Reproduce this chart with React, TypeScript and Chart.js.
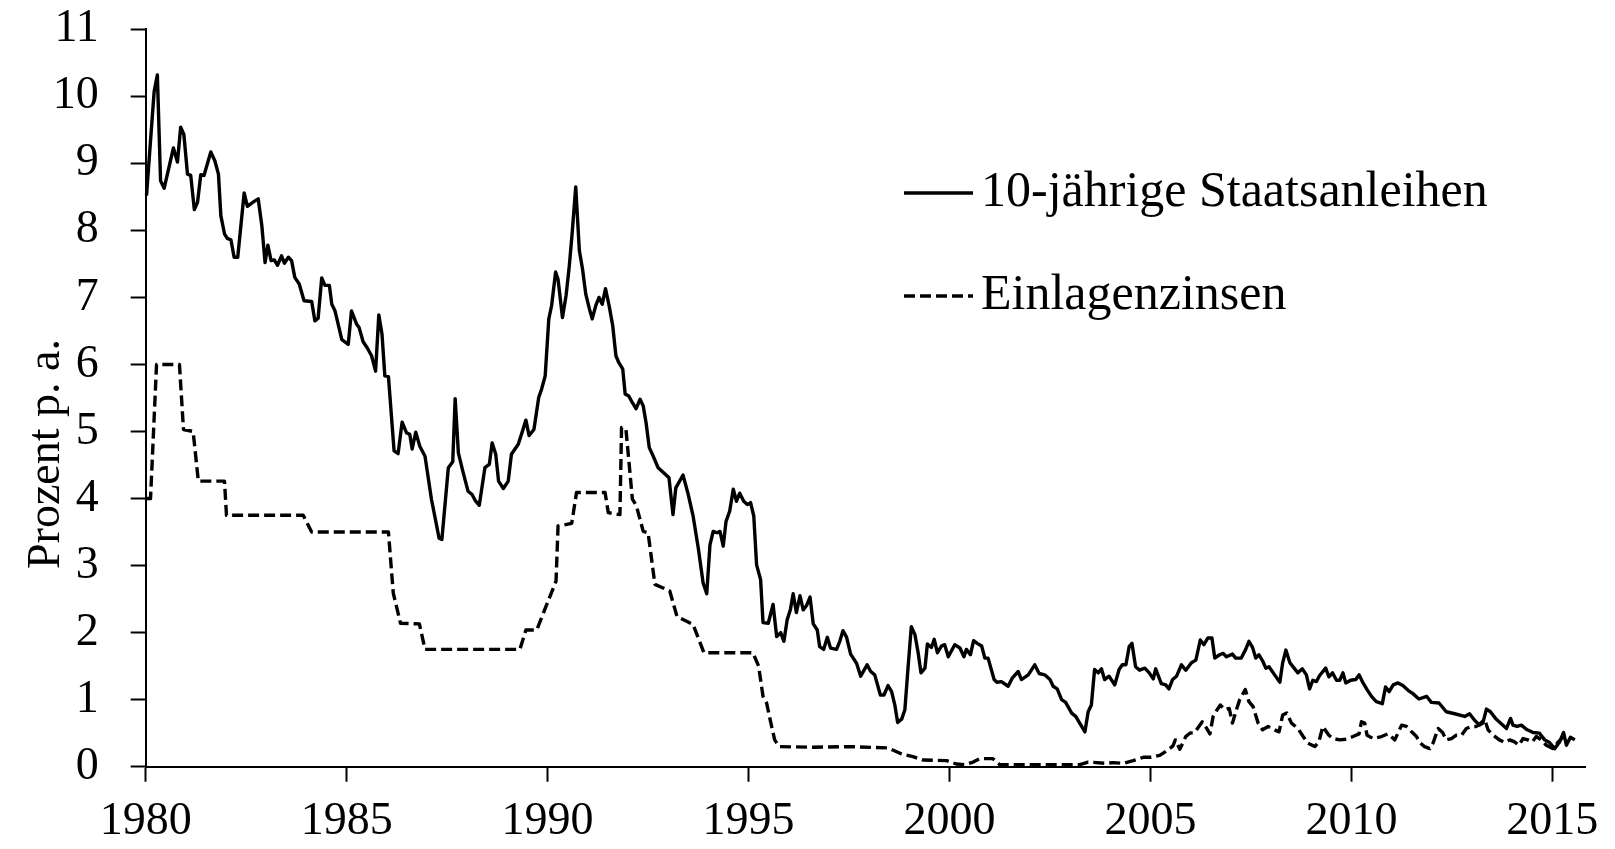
import React, { useEffect, useRef } from "react";
import { Chart, registerables } from "chart.js";

Chart.register(...registerables);

const FONT = '"Liberation Serif", "Times New Roman", serif';

const seriesLabels = ["10-jährige Staatsanleihen", "Einlagenzinsen"];
const yAxisTitle = "Prozent p. a.";
const xTickYears = [1980, 1985, 1990, 1995, 2000, 2005, 2010, 2015];

const bondYears = [
  1980.02, 1980.21, 1980.29, 1980.37, 1980.46, 1980.59, 1980.69, 1980.79, 1980.87, 1980.95,
  1981.04, 1981.12, 1981.21, 1981.29, 1981.37, 1981.45, 1981.62, 1981.72, 1981.81, 1981.87,
  1981.96, 1982.03, 1982.12, 1982.2, 1982.29, 1982.45, 1982.53, 1982.69, 1982.8, 1982.89,
  1982.97, 1983.04, 1983.12, 1983.2, 1983.28, 1983.38, 1983.45, 1983.55, 1983.63, 1983.71,
  1983.82, 1983.94, 1984.13, 1984.21, 1984.29, 1984.38, 1984.46, 1984.57, 1984.63, 1984.71,
  1984.88, 1985.04, 1985.12, 1985.25, 1985.31, 1985.41, 1985.51, 1985.62, 1985.72, 1985.8,
  1985.88, 1985.95, 1986.04, 1986.18, 1986.28, 1986.38, 1986.49, 1986.57, 1986.63, 1986.72,
  1986.82, 1986.95, 1987.11, 1987.3, 1987.37, 1987.53, 1987.64, 1987.7, 1987.78, 1987.89,
  1988.02, 1988.12, 1988.21, 1988.3, 1988.44, 1988.55, 1988.62, 1988.71, 1988.78, 1988.9,
  1989.02, 1989.1, 1989.27, 1989.35, 1989.46, 1989.54, 1989.66, 1989.78, 1989.85, 1989.94,
  1990.03, 1990.1, 1990.2, 1990.26, 1990.37, 1990.46, 1990.54, 1990.61, 1990.7, 1990.79,
  1990.87, 1990.95, 1991.04, 1991.11, 1991.2, 1991.28, 1991.36, 1991.44, 1991.53, 1991.62,
  1991.7, 1991.77, 1991.87, 1991.93, 1992.02, 1992.11, 1992.2, 1992.3, 1992.38, 1992.45,
  1992.53, 1992.63, 1992.75, 1992.88, 1993.02, 1993.12, 1993.19, 1993.37, 1993.5, 1993.62,
  1993.75, 1993.87, 1993.96, 1994.04, 1994.12, 1994.22, 1994.29, 1994.37, 1994.44, 1994.53,
  1994.62, 1994.7, 1994.78, 1994.88, 1994.97, 1995.05, 1995.13, 1995.2, 1995.3, 1995.36,
  1995.49, 1995.61, 1995.7, 1995.8, 1995.88, 1995.96, 1996.04, 1996.11, 1996.19, 1996.28,
  1996.36, 1996.44, 1996.53, 1996.61, 1996.71, 1996.77, 1996.87, 1996.96, 1997.04, 1997.19,
  1997.27, 1997.35, 1997.44, 1997.54, 1997.69, 1997.79, 1997.95, 1998.04, 1998.14, 1998.28,
  1998.37, 1998.47, 1998.56, 1998.64, 1998.71, 1998.81, 1998.89, 1998.97, 1999.05, 1999.14,
  1999.22, 1999.29, 1999.39, 1999.45, 1999.55, 1999.62, 1999.7, 1999.8, 1999.88, 1999.97,
  2000.13, 2000.26, 2000.36, 2000.42, 2000.52, 2000.6, 2000.69, 2000.8, 2000.88, 2000.96,
  2001.11, 2001.18, 2001.29, 2001.46, 2001.56, 2001.71, 2001.79, 2001.96, 2002.12, 2002.23,
  2002.37, 2002.5, 2002.58, 2002.68, 2002.79, 2002.89, 2003.04, 2003.14, 2003.37, 2003.45,
  2003.53, 2003.61, 2003.7, 2003.78, 2003.86, 2003.97, 2004.11, 2004.22, 2004.3, 2004.39,
  2004.47, 2004.54, 2004.63, 2004.73, 2004.86, 2004.97, 2005.07, 2005.13, 2005.27, 2005.38,
  2005.46, 2005.55, 2005.65, 2005.77, 2005.88, 2006.02, 2006.13, 2006.24, 2006.33, 2006.43,
  2006.53, 2006.6, 2006.72, 2006.81, 2006.89, 2007.04, 2007.12, 2007.26, 2007.37, 2007.45,
  2007.54, 2007.62, 2007.7, 2007.79, 2007.87, 2007.95, 2008.09, 2008.22, 2008.29, 2008.37,
  2008.47, 2008.55, 2008.67, 2008.78, 2008.88, 2008.96, 2009.04, 2009.13, 2009.21, 2009.36,
  2009.44, 2009.53, 2009.63, 2009.71, 2009.79, 2009.86, 2009.98, 2010.11, 2010.19, 2010.29,
  2010.39, 2010.5, 2010.62, 2010.77, 2010.85, 2010.94, 2011.04, 2011.16, 2011.28, 2011.41,
  2011.53, 2011.68, 2011.87, 2011.99, 2012.18, 2012.36, 2012.57, 2012.82, 2012.94, 2013.07,
  2013.19, 2013.27, 2013.36, 2013.46, 2013.6, 2013.73, 2013.86, 2013.96, 2014.02, 2014.12,
  2014.23, 2014.35, 2014.52, 2014.68, 2014.81, 2014.93, 2015.06, 2015.18, 2015.28, 2015.35,
  2015.45, 2015.56,
];

const bondValues = [
  8.52, 10.07, 10.32, 8.74, 8.63, 8.97, 9.23, 9.02, 9.54, 9.43,
  8.84, 8.82, 8.31, 8.42, 8.83, 8.82, 9.17, 9.04, 8.84, 8.22,
  7.95, 7.88, 7.86, 7.6, 7.6, 8.56, 8.36, 8.43, 8.47, 8.07,
  7.52, 7.78, 7.55, 7.56, 7.48, 7.62, 7.51, 7.6, 7.55, 7.3,
  7.2, 6.95, 6.94, 6.65, 6.69, 7.29, 7.18, 7.18, 6.9, 6.8,
  6.37, 6.3, 6.8, 6.6, 6.55, 6.34, 6.25, 6.13, 5.9, 6.74,
  6.45, 5.83, 5.82, 4.71, 4.67, 5.14, 4.98, 4.96, 4.74, 4.99,
  4.78, 4.63, 3.99, 3.41, 3.39, 4.46, 4.55, 5.49, 4.68, 4.41,
  4.11, 4.06, 3.96, 3.9, 4.46, 4.51, 4.83, 4.66, 4.26, 4.15,
  4.26, 4.66, 4.81, 4.96, 5.17, 4.94, 5.03, 5.51, 5.63, 5.83,
  6.68, 6.88, 7.38, 7.27, 6.7, 7.03, 7.47, 7.95, 8.65, 7.7,
  7.42, 7.05, 6.83, 6.68, 6.88, 7.0, 6.9, 7.13, 6.88, 6.58,
  6.13, 6.03, 5.93, 5.56, 5.53, 5.43, 5.34, 5.48, 5.38, 5.13,
  4.76, 4.63, 4.46, 4.39, 4.31, 3.76, 4.16, 4.35, 4.06, 3.74,
  3.26, 2.74, 2.58, 3.31, 3.51, 3.49, 3.51, 3.29, 3.66, 3.81,
  4.14, 3.96, 4.08, 3.96, 3.91, 3.94, 3.74, 3.01, 2.79, 2.15,
  2.14, 2.42, 1.94, 2.0, 1.87, 2.19, 2.34, 2.58, 2.3, 2.55,
  2.34, 2.4, 2.53, 2.13, 2.04, 1.79, 1.75, 1.93, 1.77, 1.75,
  1.87, 2.03, 1.93, 1.68, 1.54, 1.35, 1.52, 1.42, 1.37, 1.07,
  1.07, 1.21, 1.12, 0.92, 0.66, 0.71, 0.85, 1.49, 2.09, 1.97,
  1.7, 1.4, 1.47, 1.83, 1.78, 1.9, 1.7, 1.8, 1.82, 1.64,
  1.82, 1.77, 1.64, 1.75, 1.67, 1.88, 1.84, 1.8, 1.62, 1.62,
  1.3, 1.26, 1.27, 1.2, 1.32, 1.42, 1.3, 1.37, 1.52, 1.39,
  1.37, 1.3, 1.2, 1.16, 1.0, 0.96, 0.8, 0.75, 0.52, 0.82,
  0.92, 1.45, 1.4, 1.46, 1.3, 1.35, 1.22, 1.45, 1.52, 1.52,
  1.79, 1.84, 1.49, 1.44, 1.47, 1.4, 1.31, 1.46, 1.24, 1.22,
  1.16, 1.3, 1.35, 1.52, 1.44, 1.55, 1.59, 1.89, 1.82, 1.92,
  1.92, 1.62, 1.67, 1.69, 1.64, 1.68, 1.62, 1.62, 1.75, 1.87,
  1.78, 1.62, 1.67, 1.58, 1.47, 1.49, 1.37, 1.26, 1.55, 1.74,
  1.55, 1.49, 1.4, 1.46, 1.37, 1.16, 1.29, 1.27, 1.36, 1.47,
  1.34, 1.4, 1.29, 1.29, 1.4, 1.25, 1.29, 1.3, 1.37, 1.25,
  1.15, 1.05, 0.97, 0.94, 1.19, 1.12, 1.22, 1.25, 1.21, 1.14,
  1.09, 1.01, 1.05, 0.96, 0.95, 0.82, 0.79, 0.75, 0.79, 0.69,
  0.62, 0.65, 0.86, 0.82, 0.71, 0.64, 0.57, 0.72, 0.62, 0.6,
  0.62, 0.56, 0.51, 0.5, 0.4, 0.36, 0.27, 0.37, 0.51, 0.32,
  0.44, 0.4,
];

const depositYears = [
  1980.02, 1980.12, 1980.27, 1980.84, 1980.94, 1981.18, 1981.31, 1981.96, 1982.01, 1983.92,
  1984.13, 1986.04, 1986.16, 1986.34, 1986.81, 1986.95, 1989.31, 1989.46, 1989.73, 1989.96,
  1990.21, 1990.26, 1990.6, 1990.72, 1991.43, 1991.51, 1991.8, 1991.84, 1991.95, 1992.11,
  1992.21, 1992.38, 1992.5, 1992.67, 1992.86, 1993.04, 1993.22, 1993.46, 1993.62, 1993.89,
  1995.11, 1995.25, 1995.36, 1995.45, 1995.53, 1995.65, 1995.76, 1996.6, 1997.5, 1998.47,
  1998.81, 1999.09, 1999.34, 1999.93, 2000.17, 2000.38, 2000.59, 2000.75, 2001.08, 2001.25,
  2002.5, 2003.24, 2003.45, 2003.9, 2004.07, 2004.33, 2004.57, 2004.82, 2005.02, 2005.23,
  2005.41, 2005.56, 2005.62, 2005.73, 2005.88, 2005.98, 2006.1, 2006.29, 2006.38, 2006.48,
  2006.56, 2006.66, 2006.74, 2006.85, 2006.96, 2007.04, 2007.14, 2007.22, 2007.36, 2007.45,
  2007.55, 2007.68, 2007.79, 2007.93, 2008.09, 2008.2, 2008.29, 2008.39, 2008.51, 2008.67,
  2008.8, 2008.92, 2009.09, 2009.19, 2009.29, 2009.44, 2009.54, 2009.71, 2009.88, 2010.04,
  2010.19, 2010.25, 2010.33, 2010.39, 2010.54, 2010.75, 2010.91, 2011.08, 2011.25, 2011.37,
  2011.5, 2011.62, 2011.7, 2011.82, 2011.95, 2012.03, 2012.16, 2012.27, 2012.36, 2012.49,
  2012.61, 2012.74, 2012.86, 2012.98, 2013.11, 2013.32, 2013.4, 2013.53, 2013.68, 2013.82,
  2013.94, 2014.06, 2014.17, 2014.27, 2014.39, 2014.5, 2014.6, 2014.73, 2014.85, 2015.01,
  2015.12, 2015.23, 2015.35,
];

const depositValues = [
  4.0, 4.0, 6.0, 6.0, 5.03, 5.0, 4.26, 4.26, 3.75, 3.75,
  3.5, 3.5, 2.59, 2.14, 2.13, 1.75, 1.75, 2.04, 2.04, 2.39,
  2.77, 3.59, 3.63, 4.09, 4.09, 3.79, 3.76, 5.06, 5.03, 3.99,
  3.89, 3.51, 3.49, 2.72, 2.67, 2.62, 2.24, 2.17, 2.12, 1.7,
  1.7, 1.5, 1.05, 0.95, 0.72, 0.4, 0.3, 0.29, 0.3, 0.28,
  0.19, 0.15, 0.1, 0.09, 0.04, 0.03, 0.07, 0.12, 0.12, 0.03,
  0.03, 0.03, 0.07, 0.05, 0.06, 0.05, 0.09, 0.14, 0.14, 0.17,
  0.24, 0.31, 0.4, 0.26, 0.45, 0.5, 0.51, 0.67, 0.59, 0.49,
  0.75, 0.85, 0.92, 0.85, 0.87, 0.65, 0.85, 1.0, 1.15, 0.97,
  0.9, 0.65, 0.55, 0.6, 0.55, 0.52, 0.77, 0.8, 0.65, 0.57,
  0.45, 0.35, 0.3, 0.37, 0.6, 0.47, 0.42, 0.4, 0.41, 0.45,
  0.49, 0.67, 0.65, 0.47, 0.42, 0.45, 0.49, 0.4, 0.62, 0.6,
  0.52, 0.45, 0.36, 0.3, 0.27, 0.35, 0.57, 0.51, 0.4, 0.42,
  0.47, 0.47, 0.57, 0.6, 0.6, 0.7, 0.55, 0.47, 0.4, 0.36,
  0.4, 0.37, 0.32, 0.42, 0.4, 0.37, 0.45, 0.4, 0.32, 0.27,
  0.35, 0.42, 0.48,
];

const legendAndTitlePlugin = {
  id: "legendAndTitle",
  afterDraw(chart: any) {
    const ctx = chart.ctx;
    ctx.save();
    chart.data.datasets.forEach((ds: any, i: number) => {
      const y = 193 + i * 103;
      ctx.beginPath();
      ctx.setLineDash(ds.borderDash || []);
      ctx.lineWidth = ds.borderWidth;
      ctx.strokeStyle = ds.borderColor;
      ctx.moveTo(904, y);
      ctx.lineTo(973, y);
      ctx.stroke();
      ctx.setLineDash([]);
      ctx.font = `50px ${FONT}`;
      ctx.fillStyle = "#000";
      ctx.textBaseline = "middle";
      ctx.textAlign = "left";
      ctx.fillText(ds.label, 981, y);
    });
    ctx.translate(47, 454);
    ctx.rotate(-Math.PI / 2);
    ctx.font = `46px ${FONT}`;
    ctx.fillStyle = "#000";
    ctx.textAlign = "center";
    ctx.textBaseline = "middle";
    ctx.fillText(yAxisTitle, 0, 0);
    ctx.restore();
  },
};

export default function App() {
  const canvasRef = useRef<HTMLCanvasElement | null>(null);

  useEffect(() => {
    if (!canvasRef.current) return;
    const bondPoints = bondYears.map((x, i) => ({ x, y: bondValues[i] }));
    const depositPoints = depositYears.map((x, i) => ({ x, y: depositValues[i] }));

    const chart = new Chart(canvasRef.current, {
      type: "line",
      data: {
        datasets: [
          {
            label: seriesLabels[0],
            data: bondPoints,
            borderColor: "#000",
            borderWidth: 3.4,
            borderJoinStyle: "round",
            pointRadius: 0,
            tension: 0,
            clip: false,
          },
          {
            label: seriesLabels[1],
            data: depositPoints,
            borderColor: "#000",
            borderWidth: 3.4,
            borderJoinStyle: "round",
            borderDash: [11, 5],
            pointRadius: 0,
            tension: 0,
            clip: false,
          },
        ],
      } as any,
      options: {
        animation: false,
        responsive: true,
        maintainAspectRatio: false,
        layout: { padding: { left: 0, right: 29.3, top: 0, bottom: 0 } },
        plugins: {
          legend: { display: false },
          tooltip: { enabled: false },
        },
        scales: {
          x: {
            type: "linear",
            min: 1980,
            max: 2015.83,
            afterBuildTicks: (scale: any) => {
              scale.ticks = xTickYears.map((v) => ({ value: v }));
            },
            afterFit: (scale: any) => {
              scale.height = 82.3;
            },
            ticks: {
              autoSkip: false,
              maxRotation: 0,
              minRotation: 0,
              padding: 13,
              color: "#000",
              font: { family: FONT, size: 46 },
              callback: (v: any) => String(v),
            },
            grid: {
              drawOnChartArea: false,
              drawTicks: true,
              tickLength: 15,
              tickWidth: 2,
              tickColor: "#000",
            },
            border: { display: true, color: "#000", width: 2 },
          },
          y: {
            type: "linear",
            min: 0,
            max: 11,
            afterFit: (scale: any) => {
              scale.width = 145.7;
              scale.paddingTop = 29.3;
            },
            ticks: {
              stepSize: 1,
              padding: 32,
              color: "#000",
              font: { family: FONT, size: 46 },
              callback: (v: any) => String(v),
            },
            grid: {
              drawOnChartArea: false,
              drawTicks: true,
              tickLength: 15,
              tickWidth: 2,
              tickColor: "#000",
            },
            border: { display: true, color: "#000", width: 2 },
          },
        },
      } as any,
      plugins: [legendAndTitlePlugin],
    });
    return () => chart.destroy();
  }, []);

  return (
    <div style={{ position: "fixed", left: 0, top: 0, width: 1615, height: 849, background: "#fff" }}>
      <canvas ref={canvasRef} />
    </div>
  );
}
